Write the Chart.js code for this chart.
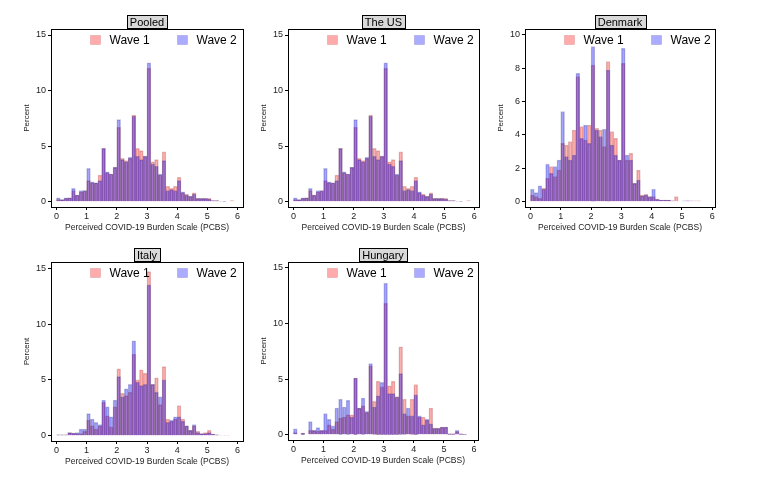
<!DOCTYPE html>
<html>
<head>
<meta charset="utf-8">
<script src="https://cdn.jsdelivr.net/npm/chart.js@4"></script>
<style>
body { margin: 0; background: #fff; }
#page { position: relative; width: 761px; height: 485px; overflow: hidden; }
.panel { position: absolute; }
</style>
</head>
<body>
<div id="page"></div>
<script>
// bin lower edges (PCBS), width 0.125
var binStarts = [0, 0.125, 0.25, 0.375, 0.5, 0.625, 0.75, 0.875, 1, 1.125, 1.25, 1.375,
    1.5, 1.625, 1.75, 1.875, 2, 2.125, 2.25, 2.375, 2.5, 2.625, 2.75, 2.875,
    3, 3.125, 3.25, 3.375, 3.5, 3.625, 3.75, 3.875, 4, 4.125, 4.25, 4.375,
    4.5, 4.625, 4.75, 4.875, 5, 5.125, 5.25, 5.375, 5.5, 5.625, 5.75];
var binWidth = 0.125;

var xTicks = [0, 1, 2, 3, 4, 5, 6];
var yTicks15 = [0, 5, 10, 15];
var yTicks10 = [0, 2, 4, 6, 8, 10];

var pooledW1 = [0.2, 0.2, 0.3, 0.35, 1.0, 0.6, 0.9, 1.0, 1.9, 1.7, 1.7, 2.4,
    4.8, 2.6, 2.5, 3.1, 6.7, 3.9, 3.7, 3.9, 7.8, 4.8, 4.6, 4.1,
    12.0, 3.6, 3.8, 2.4, 4.5, 1.4, 1.2, 1.4, 2.2, 0.8, 0.7, 0.5,
    0.8, 0.3, 0.3, 0.3, 0.3, 0.1, 0.1, 0.05, 0.05, 0, 0.1];
var pooledW2 = [0.35, 0.2, 0.35, 0.35, 1.2, 0.6, 1.0, 1.0, 3.0, 1.8, 1.7, 1.9,
    4.8, 2.7, 2.5, 3.1, 7.4, 3.8, 3.6, 4.0, 7.7, 4.1, 3.8, 4.1,
    12.5, 3.4, 3.2, 2.5, 3.7, 1.0, 1.1, 1.0, 1.9, 0.9, 0.6, 0.5,
    0.7, 0.3, 0.3, 0.3, 0.25, 0.1, 0.1, 0.05, 0.03, 0, 0];

var usW1 = [0.2, 0.2, 0.3, 0.35, 1.0, 0.6, 0.9, 1.0, 1.9, 1.7, 1.7, 2.4,
    4.8, 2.6, 2.5, 3.1, 6.7, 3.9, 3.7, 3.9, 7.8, 4.8, 4.6, 4.1,
    12.0, 3.6, 3.8, 2.4, 4.5, 1.4, 1.2, 1.4, 2.2, 0.8, 0.7, 0.5,
    0.8, 0.3, 0.3, 0.3, 0.3, 0.1, 0.1, 0.05, 0.05, 0, 0.1];
var usW2 = [0.35, 0.2, 0.35, 0.35, 1.2, 0.6, 1.0, 1.0, 3.0, 1.8, 1.7, 1.9,
    4.8, 2.7, 2.5, 3.1, 7.4, 3.8, 3.6, 4.0, 7.7, 4.1, 3.8, 4.1,
    12.5, 3.4, 3.2, 2.5, 3.7, 1.0, 1.1, 1.0, 1.9, 0.9, 0.6, 0.5,
    0.7, 0.3, 0.3, 0.3, 0.25, 0.1, 0.1, 0.05, 0.03, 0, 0];

var denmarkW1 = [0.4, 0.3, 0.2, 0.8, 1.4, 2.1, 1.5, 1.9, 3.5, 3.4, 3.6, 4.3,
    7.5, 4.5, 3.7, 4.6, 8.2, 4.4, 4.3, 3.3, 8.4, 4.2, 3.8, 2.5,
    8.3, 2.5, 2.9, 1.1, 1.9, 0.4, 0.45, 0.3, 0.3, 0.15, 0.1, 0.1,
    0.1, 0.05, 0.3, 0, 0, 0.05, 0, 0.05, 0.05, 0, 0];
var denmarkW2 = [0.75, 0.55, 0.95, 0.75, 2.25, 1.7, 2.1, 2.5, 5.4, 2.7, 2.5, 2.8,
    7.7, 3.8, 4.6, 3.5, 9.3, 4.3, 3.9, 4.35, 7.9, 3.4, 2.8, 2.5,
    9.2, 2.8, 2.5, 1.1, 1.3, 0.35, 0.4, 0.3, 0.75, 0.15, 0.1, 0.1,
    0.1, 0.05, 0, 0, 0.05, 0.05, 0.05, 0, 0, 0, 0];

var italyW1 = [0.1, 0.1, 0.1, 0.3, 0.25, 0.2, 0.2, 0.4, 1.4, 0.9, 0.6, 0.9,
    3.0, 1.8, 0.8, 2.6, 6.0, 3.8, 3.6, 3.9, 7.3, 5.0, 5.9, 5.6,
    14.7, 4.6, 5.2, 2.8, 6.2, 1.5, 1.3, 1.5, 2.7, 1.5, 0.9, 0.5,
    0.9, 0.4, 0.2, 0.3, 0.5, 0.15, 0.1, 0.05, 0.05, 0.05, 0];
var italyW2 = [0.1, 0.1, 0.1, 0.3, 0.25, 0.3, 0.6, 0.6, 2.0, 1.5, 1.2, 1.0,
    3.2, 2.6, 1.7, 3.2, 5.3, 3.5, 4.2, 4.6, 8.5, 4.8, 4.5, 4.6,
    13.5, 4.6, 3.9, 3.5, 5.0, 1.2, 1.4, 1.7, 1.7, 1.3, 0.9, 0.5,
    1.0, 0.3, 0.2, 0.2, 0.3, 0.15, 0.1, 0, 0, 0, 0];

var hungaryW1 = [0.2, 0, 0.15, 0, 0.4, 0.4, 0.35, 0.4, 0.4, 0.9, 0.5, 1.2,
    1.5, 1.6, 1.8, 1.8, 5.1, 2.4, 2.6, 2.0, 6.2, 3.0, 4.8, 4.3,
    11.8, 4.4, 4.8, 3.4, 7.9, 3.2, 1.7, 3.2, 4.5, 1.6, 1.6, 1.3,
    2.4, 0.6, 0.6, 0.7, 0.7, 0.1, 0.1, 0.3, 0.1, 0.05, 0];
var hungaryW2 = [0.55, 0, 0.15, 0, 1.2, 0.4, 0.65, 0.4, 1.9, 1.4, 0.8, 2.4,
    3.2, 2.5, 3.1, 1.6, 5.1, 2.4, 3.3, 2.1, 6.4, 2.5, 3.5, 4.7,
    13.6, 3.7, 3.7, 3.4, 5.5, 1.9, 2.4, 1.7, 3.6, 1.7, 0.9, 1.4,
    1.0, 0.6, 0.6, 0.7, 0.7, 0.1, 0.1, 0.4, 0.1, 0.05, 0];

var RED_FILL = 'rgba(255, 0, 0, 0.3)';
var RED_LINE = 'rgba(140, 0, 0, 0.25)';
var BLUE_FILL = 'rgba(0, 0, 255, 0.35)';
var BLUE_LINE = 'rgba(0, 0, 120, 0.25)';
var FONT = "'Liberation Sans', Arial, sans-serif";

// frame, gray title box and in-plot legend
var panelDecor = {
    id: 'panelDecor',
    afterDraw: function (chart, args, opts) {
        var ctx = chart.ctx;
        var a = chart.chartArea;
        ctx.save();
        ctx.strokeStyle = '#000';
        ctx.lineWidth = 1;
        ctx.strokeRect(Math.round(a.left) + 0.5, Math.round(a.top) + 0.5,
            Math.round(a.right - a.left), Math.round(a.bottom - a.top));

        // title box
        ctx.font = '11px ' + FONT;
        var tw = ctx.measureText(opts.text).width;
        var cx = (a.left + a.right) / 2;
        var bw = Math.round(tw + 6);
        var bx = Math.round(cx - bw / 2) + 0.5;
        var by = Math.round(a.top) - 14 + 0.5;
        ctx.fillStyle = '#d9d9d9';
        ctx.fillRect(bx, by, bw, 13);
        ctx.strokeRect(bx, by, bw, 13);
        ctx.fillStyle = '#000';
        ctx.textAlign = 'center';
        ctx.textBaseline = 'middle';
        ctx.fillText(opts.text, cx, by + 7);

        // legend
        var offs = [39, 126];
        var fills = ['rgba(255, 0, 0, 0.33)', 'rgba(0, 0, 255, 0.33)'];
        ctx.font = '12px ' + FONT;
        ctx.textAlign = 'left';
        chart.data.datasets.forEach(function (ds, i) {
            var sx = Math.round(a.left + offs[i]) + 0.5;
            var sy = Math.round(a.top + 6) + 0.5;
            ctx.fillStyle = fills[i];
            ctx.fillRect(sx, sy, 10, 9);
            ctx.strokeStyle = ds.borderColor;
            ctx.lineWidth = 0.6;
            ctx.strokeRect(sx, sy, 10, 9);
            ctx.fillStyle = '#000';
            ctx.fillText(ds.label, sx + 19, sy + 5);
        });
        ctx.restore();
    }
};

function toPoints(values) {
    return values.map(function (v, i) {
        return { x: binStarts[i] + binWidth / 2, y: v };
    });
}

function makePanel(title, w1, w2, frame, xMax, yMin, yMax, yTicks) {
    var padTop = 20, padRight = 6, yAxisW = 35, xAxisH = 26;
    var div = document.createElement('div');
    div.className = 'panel';
    var width = frame.r - frame.l + yAxisW + padRight;
    var height = frame.b - frame.t + padTop + xAxisH;
    div.style.left = (frame.l - yAxisW) + 'px';
    div.style.top = (frame.t - padTop) + 'px';
    div.style.width = width + 'px';
    div.style.height = height + 'px';
    var canvas = document.createElement('canvas');
    div.appendChild(canvas);
    document.getElementById('page').appendChild(div);

    return new Chart(canvas, {
        type: 'bar',
        data: {
            datasets: [{
                label: 'Wave 1',
                data: toPoints(w1),
                backgroundColor: RED_FILL,
                borderColor: RED_LINE,
                borderWidth: 0.8,
                grouped: false,
                order: 2,
                barPercentage: 1,
                categoryPercentage: 1
            }, {
                label: 'Wave 2',
                data: toPoints(w2),
                backgroundColor: BLUE_FILL,
                borderColor: BLUE_LINE,
                borderWidth: 0.8,
                grouped: false,
                order: 1,
                barPercentage: 1,
                categoryPercentage: 1
            }]
        },
        options: {
            responsive: true,
            maintainAspectRatio: false,
            animation: false,
            events: [],
            layout: { padding: { top: padTop, right: padRight, left: 0, bottom: 0 } },
            plugins: {
                legend: { display: false },
                tooltip: { enabled: false },
                panelDecor: { text: title }
            },
            scales: {
                x: {
                    type: 'linear',
                    offset: false,
                    min: -0.18,
                    max: xMax,
                    afterBuildTicks: function (scale) {
                        scale.ticks = xTicks.map(function (v) { return { value: v }; });
                    },
                    afterFit: function (scale) { scale.height = xAxisH; },
                    grid: { offset: false, drawOnChartArea: false, drawTicks: true, tickLength: 3, color: '#000' },
                    border: { display: false },
                    ticks: { color: '#222', padding: 1, maxRotation: 0, font: { family: FONT, size: 9 } },
                    title: {
                        display: true,
                        text: 'Perceived COVID-19 Burden Scale (PCBS)',
                        color: '#222',
                        padding: { top: 0, bottom: 0 },
                        font: { family: FONT, size: 8.5 }
                    }
                },
                y: {
                    min: yMin,
                    max: yMax,
                    afterBuildTicks: function (scale) {
                        scale.ticks = yTicks.map(function (v) { return { value: v }; });
                    },
                    afterFit: function (scale) { scale.width = yAxisW; },
                    grid: { drawOnChartArea: false, drawTicks: true, tickLength: 3, color: '#000' },
                    border: { display: false },
                    ticks: { color: '#222', padding: 2, font: { family: FONT, size: 9 } },
                    title: {
                        display: true,
                        text: 'Percent',
                        color: '#222',
                        padding: { top: 6, bottom: 0 },
                        font: { family: FONT, size: 8 }
                    }
                }
            }
        },
        plugins: [panelDecor]
    });
}

makePanel('Pooled', pooledW1, pooledW2, { l: 51, t: 29, r: 243, b: 207 }, 6.18, -0.47, 15.54, yTicks15);
makePanel('The US', usW1, usW2, { l: 288, t: 29, r: 479, b: 207 }, 6.16, -0.47, 15.54, yTicks15);
makePanel('Denmark', denmarkW1, denmarkW2, { l: 525, t: 29, r: 715, b: 207 }, 6.09, -0.32, 10.36, yTicks10);
makePanel('Italy', italyW1, italyW2, { l: 51, t: 262, r: 243, b: 441 }, 6.18, -0.46, 15.55, yTicks15);
makePanel('Hungary', hungaryW1, hungaryW2, { l: 288, t: 262, r: 478, b: 440 }, 6.13, -0.46, 15.5, yTicks15);
</script>
</body>
</html>
